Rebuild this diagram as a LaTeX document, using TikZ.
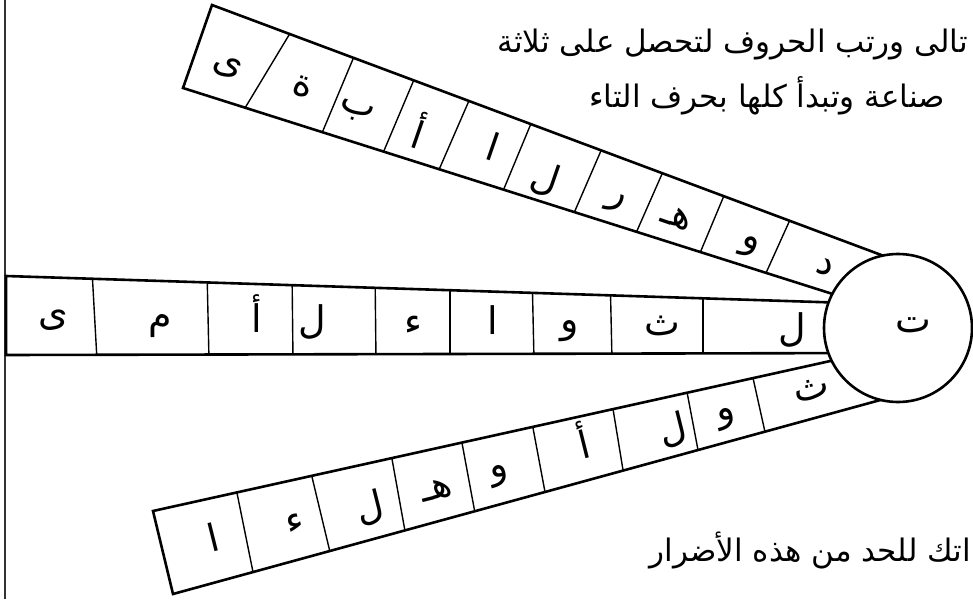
\documentclass[tikz,border=0pt]{standalone}
\usepackage{fontspec}
\newfontfamily\arabicfont[Script=Arabic]{DejaVu Sans}
\TeXXeTstate=1
\usetikzlibrary{calc}

\newcommand{\artext}[1]{\arabicfont\beginR #1\endR}

\begin{document}
\begin{tikzpicture}[
    x=1pt, y=-1pt,
    strip/.style={draw=black, line width=2.6pt, line join=miter},
    cellwall/.style={draw=black, line width=1.4pt},
    hub/.style={circle, draw=black, line width=2.6pt, fill=white,
                minimum size=148pt, inner sep=0pt},
    letter/.style={font=\arabicfont\fontsize{38}{42}\selectfont, inner sep=0pt},
    clue/.style={font=\arabicfont\fontsize{31}{36}\selectfont, inner sep=0pt,
                 anchor=east}
]
\useasboundingbox (0,0) rectangle (973,599);

% left page edge
\draw[line width=2pt, black!80] (4.5,0) -- (4.5,599);

% upper strip
\begin{scope}
  \clip (212,5) -- (900,262) -- (880,309) -- (183,88) -- cycle;
  \foreach \xa/\ya/\xb/\yb in {289/35/245/108, 353/59/322/133, 413/82/383/153,
      468/103/438/172, 530/126/503/191, 600/153/574/213, 662/174/636/233,
      723/198/700/253, 789/222/766/273}
    \draw[cellwall] ($(\xa,\ya)!-0.3!(\xb,\yb)$) -- ($(\xa,\ya)!1.3!(\xb,\yb)$);
\end{scope}
\draw[strip] (212,5) -- (900,262) -- (880,309) -- (183,88) -- cycle;

% middle strip
\begin{scope}
  \clip (6,276) -- (880,304) -- (880,353) -- (6,355) -- cycle;
  \foreach \xa/\xb in {92/97, 207/209, 292/293, 375/376, 450/450, 532/534,
      610/612, 703/703}
    \draw[cellwall] (\xa,270) -- (\xb,360);
\end{scope}
\draw[strip] (6,276) -- (880,304) -- (880,353) -- (6,355) -- cycle;

% lower strip
\begin{scope}
  \clip (153,511) -- (880,350) -- (895,396) -- (173,594) -- cycle;
  \foreach \xa/\ya/\xb/\yb in {237/493/253/572, 312/477/330/552, 392/459/405/531,
      462/443/475/513, 533/428/545/492, 613/409/623/470, 687/392/698/450,
      753/378/765/432}
    \draw[cellwall] ($(\xa,\ya)!-0.3!(\xb,\yb)$) -- ($(\xa,\ya)!1.3!(\xb,\yb)$);
\end{scope}
\draw[strip] (153,511) -- (880,350) -- (895,396) -- (173,594) -- cycle;

% shared first letter
\node[hub] (hub) at (898,328) {};
\node[letter] (taa) at (913,325) {\artext{ت}};

% letters of the three words
\foreach \px/\py/\ch [count=\i] in {227/67/ى, 303/87/ة, 356/112/ب, 420/130/أ,
    493/147/ا, 545/179/ل, 615/203/ر, 677/218/هـ, 750/247/و, 825/267/د}
  \node[letter, rotate=-19] (up\i) at (\px,\py) {\artext{\ch}};
\foreach \px/\py/\ch [count=\i] in {53/320/ى, 160/326/م, 257/314/أ, 312/322/ل,
    413/325/ء, 493/320/ا, 570/331/و, 662/326/ث, 792/330/ل}
  \node[letter] (mid\i) at (\px,\py) {\artext{\ch}};
\foreach \px/\py/\ch [count=\i] in {213/537/ا, 295/523/ء, 370/508/ل, 437/490/هـ,
    500/476/و, 583/440/أ, 673/430/ل, 727/419/و, 812/390/ث}
  \node[letter, rotate=14] (low\i) at (\px,\py) {\artext{\ch}};

% instructions
\node[clue] (clueA) at (968,45) {\artext{تالى ورتب الحروف لتحصل على ثلاثة}};
\node[clue] (clueB) at (945,96) {\artext{صناعة وتبدأ كلها بحرف التاء}};
\node[clue] (clueC) at (971,550) {\artext{اتك للحد من هذه الأضرار}};
\end{tikzpicture}
\end{document}
